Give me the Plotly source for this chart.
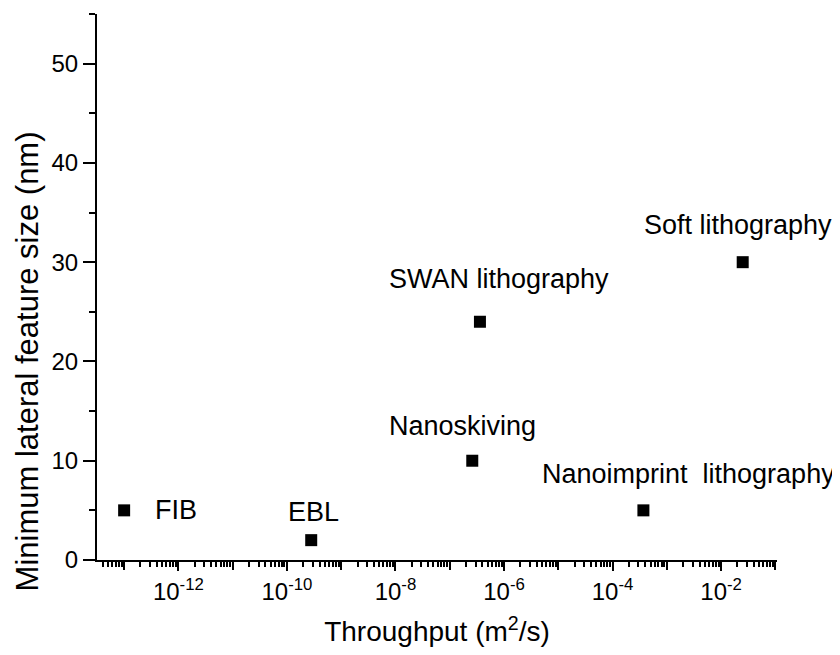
import numpy as np
import plotly.graph_objects as go

# ---- data ----
methods = ["FIB", "EBL", "Nanoskiving", "SWAN lithography",
           "Nanoimprint\u00a0\u00a0lithography", "Soft lithography"]
throughput = [1.0e-13, 2.8e-10, 2.6e-7, 3.6e-7, 3.7e-4, 2.5e-2]   # m^2/s
feature_size = [5, 2, 10, 24, 5, 30]                              # nm

y_ticks = [0, 10, 20, 30, 40, 50]
x_label_exps = [-12, -10, -8, -6, -4, -2]
x_title = "Throughput (m<sup>2</sup>/s)"
y_title = "Minimum lateral feature size (nm)"

# ---- style ----
FONT = "Liberation Sans, Arial, sans-serif"
x_range_exp = [-13.5, -0.97]
y_range = [0, 55]
# label placement relative to its point (xanchor, xshift px, yshift px)
label_style = [("left", 29, 0), ("center", 2, 28), ("center", -10, 35),
               ("center", 19, 43), ("center", 45, 36), ("center", -5, 37)]

major_exps = list(range(int(np.ceil(x_range_exp[0])), int(np.floor(x_range_exp[1])) + 1))
unlabeled_exps = [e for e in major_exps if e not in x_label_exps]
x_minor = [k * 10.0 ** e for e in range(major_exps[0] - 1, major_exps[-1] + 1)
           for k in range(2, 10)
           if x_range_exp[0] <= np.log10(k * 10.0 ** e) <= x_range_exp[1]]

fig = go.Figure()
fig.add_trace(go.Scatter(
    x=throughput, y=feature_size, mode="markers",
    marker=dict(symbol="square", size=12, color="black"),
    showlegend=False, hoverinfo="skip"))
# invisible trace so the overlay axis (unlabeled decade ticks) is drawn
fig.add_trace(go.Scatter(
    x=throughput, y=feature_size, mode="markers", xaxis="x2",
    marker=dict(size=1, opacity=0), showlegend=False, hoverinfo="skip"))

for m, xv, yv, (anc, xs, ys) in zip(methods, throughput, feature_size, label_style):
    fig.add_annotation(x=np.log10(xv), y=yv, text=m, showarrow=False,
                       xanchor=anc, yanchor="middle", xshift=xs, yshift=ys,
                       font=dict(family=FONT, size=27, color="black"))

# y-axis title (placed like the reference, a little below the axis centre)
fig.add_annotation(xref="paper", yref="paper", x=-0.102, y=0.363,
                   text=y_title, textangle=-90, showarrow=False,
                   xanchor="center", yanchor="middle",
                   font=dict(family=FONT, size=31, color="black"))

fig.update_layout(
    xaxis=dict(
        type="log", range=x_range_exp,
        tickmode="array", tickvals=[10.0 ** e for e in x_label_exps],
        ticktext=[f"10<sup>{e}</sup>" for e in x_label_exps],
        ticks="outside", ticklen=9, tickwidth=2, tickcolor="black",
        minor=dict(tickmode="array", tickvals=x_minor, ticks="outside",
                   ticklen=5, tickwidth=1.5, tickcolor="black"),
        showline=True, linewidth=2, linecolor="black",
        showgrid=False, zeroline=False,
        tickfont=dict(family=FONT, size=24, color="black"),
        title=dict(text=x_title, standoff=18,
                   font=dict(family=FONT, size=28, color="black"))),
    xaxis2=dict(
        type="log", range=x_range_exp, overlaying="x", anchor="y", side="bottom",
        tickmode="array", tickvals=[10.0 ** e for e in unlabeled_exps],
        showticklabels=False,
        ticks="outside", ticklen=9, tickwidth=2, tickcolor="black",
        showline=False, showgrid=False, zeroline=False),
    yaxis=dict(
        range=y_range, tickmode="array", tickvals=y_ticks,
        ticks="outside", ticklen=12, tickwidth=2, tickcolor="black",
        minor=dict(dtick=5, tick0=0, ticks="outside", ticklen=6,
                   tickwidth=2, tickcolor="black"),
        showline=True, linewidth=2, linecolor="black",
        showgrid=False, zeroline=False,
        tickfont=dict(family=FONT, size=24, color="black")),
    width=832, height=647,
    margin=dict(l=89, r=63, t=6, b=95, autoexpand=False),
    paper_bgcolor="white", plot_bgcolor="white",
    font=dict(family=FONT, color="black"))

fig.write_html("out.html")
